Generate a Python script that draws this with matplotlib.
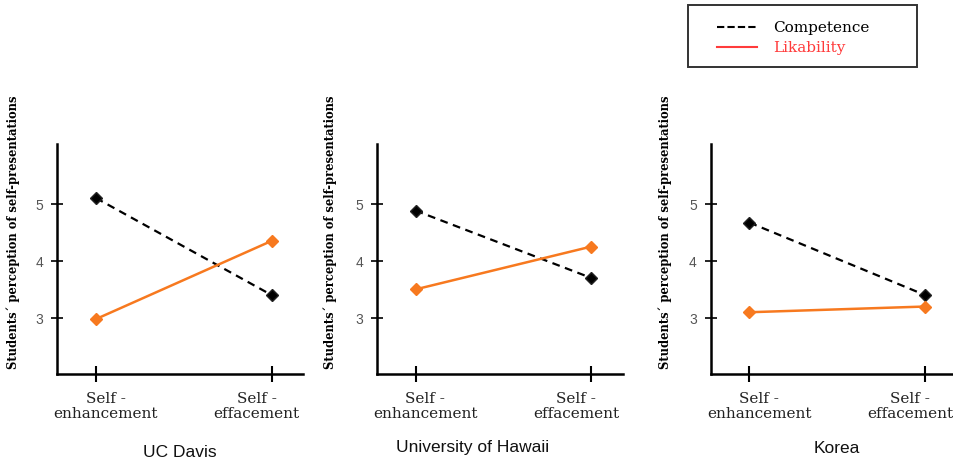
import matplotlib.pyplot as plt
from matplotlib.lines import Line2D
from matplotlib.patches import Rectangle

CONDITIONS = ["Self -\nenhancement", "Self -\neffacement"]
SITES = ["UC Davis", "University of Hawaii", "Korea"]
COMPETENCE = [
    [5.1, 3.4],
    [4.88, 3.7],
    [4.67, 3.4],
]
LIKABILITY = [
    [2.98, 4.35],
    [3.5, 4.25],
    [3.1, 3.2],
]
Y_TICKS = [3, 4, 5]
YLABEL = "Students\u00b4 perception of self-presentations"

ORANGE = "#f7791f"
SERIF = "DejaVu Serif"
SANS = "Liberation Sans"

# axes placement in figure fractions (left, bottom, width, height)
LEFTS = [0.060, 0.395, 0.745]
W, B, H = 0.258, 0.192, 0.496
YLAB_X = [0.014, 0.346, 0.697]
TITLE_POS = [(0.189, 0.024), (0.495, 0.036), (0.877, 0.034)]
# labels in the original sit a bit inward of their ticks (points)
LABEL_SHIFT = [7, -11]


def draw_panel(fig, i):
    ax = fig.add_axes([LEFTS[i], B, W, H])
    x = list(range(len(CONDITIONS)))
    ax.plot(x, COMPETENCE[i], color="black", lw=1.6, ls=(0, (3.5, 2.5)),
            marker="D", ms=6, mfc="black", mec="#222222", zorder=3)
    ax.plot(x, LIKABILITY[i], color=ORANGE, lw=1.8, ls="-",
            marker="D", ms=6, mfc=ORANGE, mec=ORANGE, zorder=3)

    ax.set_xlim(-0.22, 1.18)
    ax.set_ylim(2.02, 6.05)
    ax.set_xticks(x)
    ax.set_xticklabels([])
    # category labels placed by hand so they can sit off the tick centre
    for xi, name, dx in zip(x, CONDITIONS, LABEL_SHIFT):
        ax.annotate(name, xy=(xi, 0), xycoords=("data", "axes fraction"),
                    xytext=(dx, -12), textcoords="offset points",
                    ha="center", va="top", fontsize=11, family=SERIF,
                    color="#222222", linespacing=1.15, annotation_clip=False)
    ax.set_yticks(Y_TICKS)
    ax.set_yticklabels([str(t) for t in Y_TICKS], fontsize=10, family=SANS,
                       color="#555555")
    ax.tick_params(axis="x", direction="inout", length=11, width=1.5)
    ax.tick_params(axis="y", direction="inout", length=8, width=1.2, pad=6)
    for s in ["top", "right"]:
        ax.spines[s].set_visible(False)
    for s in ["left", "bottom"]:
        ax.spines[s].set_linewidth(1.8)
        ax.spines[s].set_color("black")

    fig.text(YLAB_X[i], 0.5, YLABEL, rotation=90, ha="center", va="center",
             fontsize=8.3, fontweight="bold", family=SERIF)
    tx, ty = TITLE_POS[i]
    fig.text(tx, ty, SITES[i], ha="center", va="center", fontsize=12.5,
             family=SANS, color="#111111")
    return ax


def draw_legend(fig):
    # box drawn by hand, like the original figure
    fig.add_artist(Rectangle((0.721, 0.854), 0.240, 0.133,
                             transform=fig.transFigure, fill=False,
                             edgecolor="#333333", lw=1.4))
    rows = [("Competence", "black", (0, (3.5, 1.5)), 0.940),
            ("Likability", "#ff3b3b", "-", 0.897)]
    for label, col, ls, y in rows:
        fig.add_artist(Line2D([0.752, 0.794], [y, y], transform=fig.transFigure,
                              color=col, lw=1.5, ls=ls))
        fig.text(0.810, y, label, ha="left", va="center", fontsize=11,
                 family=SERIF, color=col)


def main():
    fig = plt.figure(figsize=(9.54, 4.64), dpi=100)
    fig.patch.set_facecolor("white")
    for i in range(len(SITES)):
        draw_panel(fig, i)
    draw_legend(fig)
    fig.savefig("out.png", dpi=100, facecolor="white")


if __name__ == "__main__":
    main()
